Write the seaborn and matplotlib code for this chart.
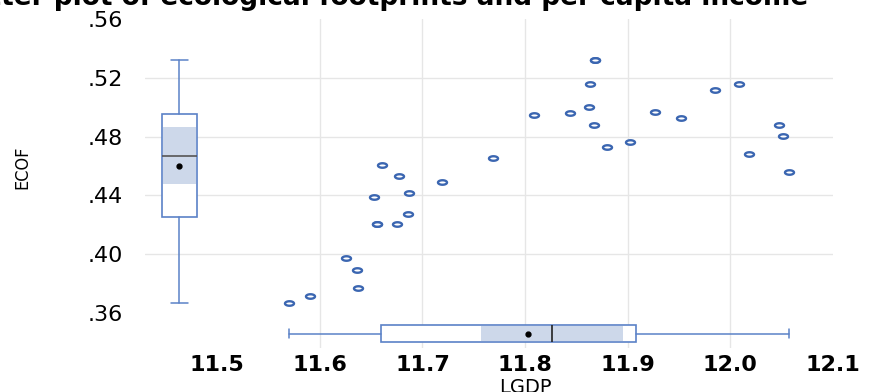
import numpy as np
import matplotlib
matplotlib.use("Agg")
import matplotlib.pyplot as plt
import seaborn as sns
from matplotlib.path import Path
from matplotlib.patches import Rectangle
from matplotlib import cbook

# data (LGDP = log GDP per capita, ECOF = ecological footprint)
lgdp = [11.570, 11.590, 11.626, 11.636, 11.637, 11.653, 11.656, 11.656,
        11.661, 11.675, 11.677, 11.686, 11.687, 11.719, 11.769, 11.809,
        11.844, 11.862, 11.863, 11.867, 11.868, 11.868, 11.880, 11.902,
        11.927, 11.952, 11.985, 12.008, 12.018, 12.047, 12.051, 12.057]
ecof = [0.3668, 0.3714, 0.3973, 0.3893, 0.3766, 0.4389, 0.4204, 0.4204,
        0.4605, 0.4204, 0.4530, 0.4271, 0.4414, 0.4491, 0.4654, 0.4948,
        0.4960, 0.5002, 0.5157, 0.4879, 0.5320, 0.5320, 0.4727, 0.4763,
        0.4970, 0.4929, 0.5120, 0.5157, 0.4682, 0.4875, 0.4805, 0.4559]

x_ticks = [11.5, 11.6, 11.7, 11.8, 11.9, 12.0, 12.1]
y_ticks = [0.36, 0.40, 0.44, 0.48, 0.52, 0.56]

blue = "#3b66b1"
box_edge = "#5b82c7"
shade = "#cdd8ea"

sns.set_theme(style="white")
plt.rcParams["font.family"] = ["DejaVu Sans"]
plt.rcParams["text.color"] = "black"
plt.rcParams["xtick.color"] = "black"
plt.rcParams["ytick.color"] = "black"

fig = plt.figure(figsize=(8.7, 3.92), dpi=100)
ax = fig.add_axes([145 / 870, 1 - 348 / 392, (833 - 145) / 870, (348 - 19) / 392])

# hollow, horizontally stretched circles
t = np.linspace(0, 2 * np.pi, 60)
ell = Path(np.column_stack([np.cos(t), 0.5 * np.sin(t)]), closed=True)
sns.scatterplot(x=lgdp, y=ecof, ax=ax, marker=ell, s=42, color="white",
                edgecolor=blue, linewidth=1.7, zorder=4)


def marginal_box(ax, data, pos, width, vert, med_color):
    st = cbook.boxplot_stats(np.asarray(data), whis=(0, 100))[0]
    ax.bxp([st], positions=[pos], widths=width, vert=vert, patch_artist=True,
           showmeans=True, showcaps=True, manage_ticks=False,
           boxprops=dict(facecolor="white", edgecolor=box_edge, linewidth=1.2),
           whiskerprops=dict(color=box_edge, linewidth=1.1),
           capprops=dict(color=box_edge, linewidth=1.1),
           medianprops=dict(color=med_color, linewidth=1.2, zorder=6),
           meanprops=dict(marker="o", markerfacecolor="black",
                          markeredgecolor="black", markersize=3.5, zorder=7),
           zorder=3)
    # shaded median confidence band
    lo, hi = st["cilo"], st["cihi"]
    inset = width * 0.04
    if vert:
        r = Rectangle((pos - width / 2 + inset, lo), width - 2 * inset, hi - lo,
                      facecolor=shade, edgecolor="none", zorder=5)
    else:
        r = Rectangle((lo, pos - width / 2 + inset), hi - lo, width - 2 * inset,
                      facecolor=shade, edgecolor="none", zorder=5)
    ax.add_patch(r)


marginal_box(ax, ecof, 11.4633, 0.0347, True, "#555555")
marginal_box(ax, lgdp, 0.3458, 0.0116, False, "#222222")

ax.set_xlim(11.4297, 12.1)
ax.set_ylim(0.336, 0.56)
ax.set_xticks(x_ticks)
ax.set_yticks(y_ticks)
ax.set_xticklabels([f"{v:.1f}" for v in x_ticks], fontsize=16, fontweight="bold")
ax.set_yticklabels([f"{v:.2f}".lstrip("0") for v in y_ticks], fontsize=16)
ax.tick_params(axis="both", length=0)
ax.tick_params(axis="x", pad=5)
ax.tick_params(axis="y", pad=16)

ax.grid(True, color="#e6e6e6", linewidth=1.0)
for ticks in (ax.xaxis.get_major_ticks(), ax.yaxis.get_major_ticks()):
    ticks[0].gridline.set_visible(False)
    ticks[-1].gridline.set_visible(False)
ax.set_axisbelow(True)
for sp in ax.spines.values():
    sp.set_visible(False)

fig.text(525 / 870, 1 - 378 / 392, "LGDP", ha="center", va="top", fontsize=14)
fig.text(22 / 870, 1 - 167 / 392, "ECOF", rotation=90, ha="center", va="center",
         fontsize=13, fontstretch="condensed",
         family=["Liberation Sans Narrow", "DejaVu Sans"])
fig.text(808 / 870, 1 - 5 / 392,
         "Scatter plot of ecological footprints and per capita income",
         ha="right", va="baseline", fontsize=19, fontweight="bold")

fig.savefig("out.png", dpi=100)
